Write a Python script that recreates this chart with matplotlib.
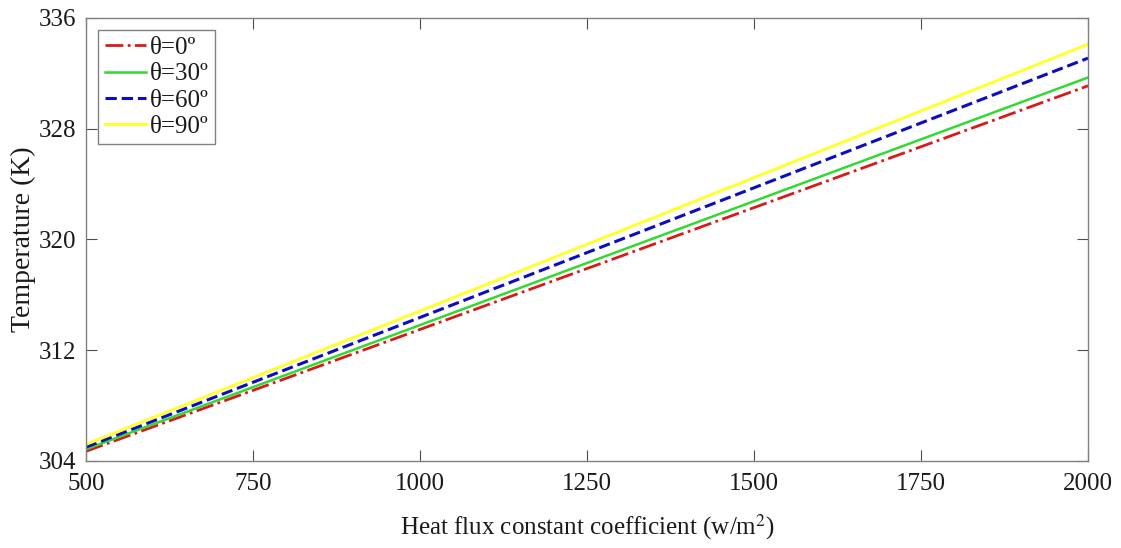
import numpy as np
import matplotlib
matplotlib.use("Agg")
import matplotlib.pyplot as plt

# Data (lines are straight)
heat_flux = [500, 1250, 2000]
temp_0 = [304.7, 317.9, 331.1]
temp_30 = [304.85, 318.3, 331.7]
temp_60 = [305.0, 319.05, 333.1]
temp_90 = [305.2, 319.65, 334.1]
labels = ["θ=0º", "θ=30º", "θ=60º", "θ=90º"]
x_ticks = [500, 750, 1000, 1250, 1500, 1750, 2000]
y_ticks = [304, 312, 320, 328, 336]

plt.rcParams['font.family'] = ['Liberation Serif', 'DejaVu Serif']
plt.rcParams['mathtext.fontset'] = 'stix'

fig = plt.figure(figsize=(11.21, 5.48), dpi=100)
ax = fig.add_axes([0.0767, 0.1588, 0.8939, 0.8084])

ax.plot(heat_flux, temp_0, color=(0.85, 0.1, 0.1), linestyle='-.', linewidth=2, label=labels[0])
ax.plot(heat_flux, temp_30, color=(0.2, 0.85, 0.2), linestyle='-', linewidth=1.8, label=labels[1])
ax.plot(heat_flux, temp_60, color=(0.05, 0.05, 0.75), linestyle='--', linewidth=2.2, label=labels[2])
ax.plot(heat_flux, temp_90, color=(1.0, 1.0, 0.2), linestyle='-', linewidth=2.2, label=labels[3])

ax.set_xlim(500, 2000)
ax.set_ylim(304, 336)
ax.set_xticks(x_ticks)
ax.set_yticks(y_ticks)
ax.tick_params(direction='in', top=True, right=True, labelsize=18, length=8, color='0.3',
               labelcolor='0.1')
ax.tick_params(axis='x', pad=9)
ax.tick_params(axis='y', pad=7)
for s in ax.spines.values():
    s.set_color('0.5')
    s.set_linewidth(1)

ax.set_xlabel("Heat flux constant coefficient (w/m$^2$)", fontsize=18, labelpad=12, color='0.1')
ax.set_ylabel("Temperature (K)", fontsize=20, labelpad=2, color='0.1')

leg = ax.legend(loc='upper left', fontsize=18, fancybox=False, framealpha=1,
                handlelength=1.65, handletextpad=0.15, borderpad=0.25, labelspacing=0.15,
                borderaxespad=0.5)
leg.get_frame().set_edgecolor('0.5')
leg.get_frame().set_linewidth(1)
for t in leg.get_texts():
    t.set_color('0.1')

fig.savefig("out.png", dpi=100)
